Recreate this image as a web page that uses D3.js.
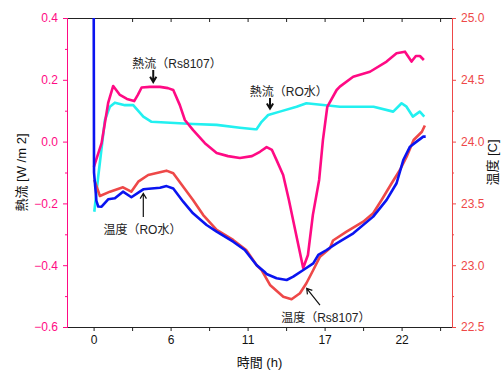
<!DOCTYPE html>
<html>
<head>
<meta charset="utf-8">
<script src="https://d3js.org/d3.v7.min.js"></script>
<style>
  body { margin: 0; background: #fff; }
  svg { font-family: "Liberation Sans", Arial, "Noto Sans CJK JP", sans-serif; }
</style>
</head>
<body>
<div id="chart"></div>
<script>
// heat flux, Rs8107 (left axis, W/m2)
const fluxRsHours = [0.02, 0.57, 1.04, 1.4, 1.88, 2.38, 2.9, 3.16, 3.43, 4.02, 4.74, 5.31, 5.69, 6.16, 6.52, 7.11, 7.95, 8.79, 9.6, 10.45, 11.31, 11.88, 12.36, 12.74, 13.07, 13.54, 13.95, 14.5, 14.97, 15.31, 15.66, 16.11, 16.38, 16.69, 17.36, 17.59, 18.54, 19.74, 20.93, 21.64, 22.24, 22.71, 23.02, 23.31, 23.59];
const fluxRsValues = [-0.082, -0.005, 0.125, 0.18, 0.151, 0.138, 0.131, 0.151, 0.175, 0.177, 0.177, 0.173, 0.167, 0.118, 0.07, 0.037, -0.005, -0.037, -0.047, -0.053, -0.047, -0.033, -0.018, -0.027, -0.06, -0.108, -0.189, -0.308, -0.409, -0.367, -0.238, -0.124, 0.005, 0.112, 0.167, 0.178, 0.21, 0.226, 0.259, 0.286, 0.291, 0.259, 0.277, 0.277, 0.264];

// heat flux, RO water (left axis)
const fluxRoHours = [0.05, 0.33, 0.81, 1.16, 1.52, 2.24, 2.83, 3.55, 4.14, 7.11, 8.79, 10.45, 11.52, 11.64, 12.0, 12.47, 13.3, 14.5, 15.2, 17.6, 20.0, 21.4, 22.0, 22.35, 22.8, 23.3, 23.62];
const fluxRoValues = [-0.227, -0.113, 0.07, 0.113, 0.126, 0.118, 0.118, 0.081, 0.064, 0.057, 0.054, 0.045, 0.04, 0.04, 0.064, 0.086, 0.097, 0.113, 0.124, 0.113, 0.113, 0.097, 0.124, 0.113, 0.081, 0.097, 0.081];

// temperature, Rs8107 (right axis, C)
const tempRsHours = [0.05, 0.45, 1.17, 2.1, 2.69, 3.19, 3.9, 5.2, 5.69, 6.4, 7.1, 7.83, 8.79, 9.97, 10.9, 11.65, 12.0, 12.6, 13.55, 14.14, 14.74, 15.2, 15.69, 16.17, 16.88, 17.1, 18.07, 19.26, 19.97, 20.57, 21.29, 21.88, 22.36, 22.86, 23.45, 23.66];
const tempRsValues = [23.69, 23.56, 23.595, 23.63, 23.595, 23.676, 23.73, 23.765, 23.744, 23.635, 23.528, 23.406, 23.285, 23.204, 23.123, 23.0, 22.961, 22.84, 22.745, 22.724, 22.773, 22.854, 22.961, 23.069, 23.137, 23.2, 23.271, 23.352, 23.42, 23.528, 23.663, 23.77, 23.878, 24.013, 24.08, 24.13];

// temperature, RO water (right axis)
const tempRoHours = [0.0, 0.03, 0.2, 0.33, 0.57, 1.04, 1.52, 2.1, 2.7, 3.3, 3.55, 4.74, 5.21, 5.69, 6.4, 7.1, 8.07, 8.79, 9.97, 10.8, 11.65, 12.2, 12.35, 13.07, 13.79, 14.26, 14.98, 15.69, 16.05, 16.64, 17.36, 18.55, 19.97, 20.93, 21.64, 22.12, 22.6, 23.07, 23.55, 23.72];
const tempRoValues = [25.6, 23.75, 23.52, 23.475, 23.473, 23.533, 23.541, 23.595, 23.55, 23.595, 23.614, 23.627, 23.64, 23.62, 23.514, 23.42, 23.325, 23.271, 23.19, 23.123, 23.0, 22.947, 22.929, 22.894, 22.88, 22.907, 22.961, 23.015, 23.083, 23.123, 23.177, 23.258, 23.393, 23.528, 23.663, 23.851, 23.959, 24.0, 24.04, 24.04];

// axis ticks
const xTicks = [0, 5.5, 11, 16.5, 22];
const xTickLabels = ["0", "6", "11", "17", "22"];
const xMinorTicks = [2.75, 8.25, 13.75, 19.25, 24.75];
const leftTicks = [-0.6, -0.4, -0.2, 0.0, 0.2, 0.4];
const leftMinorTicks = [-0.5, -0.3, -0.1, 0.1, 0.3];
const rightTicks = [22.5, 23.0, 23.5, 24.0, 24.5, 25.0];
const rightMinorTicks = [22.75, 23.25, 23.75, 24.25, 24.75];

// annotation labels: text centre and arrow (start -> head), in hours / left-axis units
const noteTexts = ["熱流（Rs8107）", "熱流（RO水）", "温度（RO水）", "温度（Rs8107）"];
const noteTextPos = [[5.96, 0.251], [13.94, 0.161], [3.49, -0.286], [16.59, -0.571]];
const noteArrows = [[[4.26, 0.232], [4.26, 0.193]], [[12.6, 0.141], [12.6, 0.107]],
                    [[3.55, -0.244], [3.55, -0.168]], [[16.17, -0.529], [15.22, -0.475]]];
const noteArrowWidth = [2, 2, 1.2, 1.2];

const W = 504, H = 372;
const plot = { left: 67, right: 452, top: 18, bottom: 327 };

const pink = "#ff0a84", cyan = "#22f0f0", red = "#ee4848", blue = "#0a14f0";

const svg = d3.select("#chart").append("svg")
  .attr("width", W).attr("height", H);

const x = d3.scaleLinear().domain([-1.9, 25.6]).range([plot.left, plot.right]);
const yL = d3.scaleLinear().domain([-0.6, 0.4]).range([plot.bottom, plot.top]);
const yR = d3.scaleLinear().domain([22.5, 25.0]).range([plot.bottom, plot.top]);

svg.append("clipPath").attr("id", "clip")
  .append("rect")
  .attr("x", plot.left).attr("y", plot.top)
  .attr("width", plot.right - plot.left).attr("height", plot.bottom - plot.top);

const fmt = d => d3.format(".1f")(d).replace("-", "−");

// bottom axis
const gx = svg.append("g").attr("transform", `translate(0,${plot.bottom})`)
  .call(d3.axisBottom(x).tickValues(xTicks).tickFormat((d, i) => xTickLabels[i]).tickSizeInner(4).tickSizeOuter(0).tickPadding(4));
svg.append("g").attr("transform", `translate(0,${plot.bottom})`)
  .call(d3.axisBottom(x).tickValues(xMinorTicks).tickFormat("").tickSizeInner(4).tickSizeOuter(0));
// top frame
svg.append("g").attr("transform", `translate(0,${plot.top})`)
  .call(d3.axisTop(x).tickValues(xTicks.concat(xMinorTicks)).tickFormat("").tickSizeInner(-4).tickSizeOuter(0));

// left axis
svg.append("g").attr("class", "left").attr("transform", `translate(${plot.left},0)`)
  .call(d3.axisLeft(yL).tickValues(leftTicks).tickFormat(fmt).tickSizeInner(4).tickSizeOuter(0).tickPadding(5));
svg.append("g").attr("class", "left").attr("transform", `translate(${plot.left},0)`)
  .call(d3.axisLeft(yL).tickValues(leftMinorTicks).tickFormat("").tickSizeInner(2).tickSizeOuter(0));

// right axis
svg.append("g").attr("class", "right").attr("transform", `translate(${plot.right},0)`)
  .call(d3.axisRight(yR).tickValues(rightTicks).tickFormat(fmt).tickSizeInner(4).tickSizeOuter(0).tickPadding(5));
svg.append("g").attr("class", "right").attr("transform", `translate(${plot.right},0)`)
  .call(d3.axisRight(yR).tickValues(rightMinorTicks).tickFormat("").tickSizeInner(2).tickSizeOuter(0));

svg.selectAll("g text").attr("font-size", 12).attr("fill", "#111");
svg.selectAll("g path.domain, g .tick line").attr("stroke", "#222");
svg.selectAll("g.left path.domain, g.left .tick line").attr("stroke", pink);
svg.selectAll("g.left text").attr("fill", pink);
svg.selectAll("g.right path.domain, g.right .tick line").attr("stroke", red);
svg.selectAll("g.right text").attr("fill", red);

// axis titles
svg.append("text")
  .attr("x", (plot.left + plot.right) / 2).attr("y", 367)
  .attr("text-anchor", "middle").attr("font-size", 13).attr("fill", "#111")
  .text("時間 (h)");
svg.append("text")
  .attr("transform", `translate(26,${(plot.top + plot.bottom) / 2}) rotate(-90)`)
  .attr("text-anchor", "middle").attr("font-size", 13).attr("fill", "#111")
  .text("熱流 [W /m 2]");
svg.append("text")
  .attr("transform", `translate(497,${(plot.top + plot.bottom) / 2 - 10}) rotate(-90)`)
  .attr("text-anchor", "middle").attr("font-size", 13).attr("fill", "#111")
  .text("温度 [C]");

// series
const lines = svg.append("g").attr("clip-path", "url(#clip)");
function drawSeries(hours, values, y, color, width) {
  const pts = hours.map((h, i) => [h, values[i]]);
  lines.append("path")
    .datum(pts)
    .attr("fill", "none")
    .attr("stroke", color)
    .attr("stroke-width", width)
    .attr("stroke-linejoin", "round")
    .attr("d", d3.line().x(d => x(d[0])).y(d => y(d[1])));
}
drawSeries(fluxRoHours, fluxRoValues, yL, cyan, 2.6);
drawSeries(fluxRsHours, fluxRsValues, yL, pink, 2.6);
drawSeries(tempRsHours, tempRsValues, yR, red, 2.6);
drawSeries(tempRoHours, tempRoValues, yR, blue, 2.6);

// annotations
const notes = svg.append("g");
noteTexts.forEach((t, i) => {
  notes.append("text")
    .attr("x", x(noteTextPos[i][0])).attr("y", yL(noteTextPos[i][1]))
    .attr("dy", "0.35em")
    .attr("text-anchor", "middle").attr("font-size", 12).attr("fill", "#222")
    .text(t);
  const [a, b] = noteArrows[i];
  const x0 = x(a[0]), y0 = yL(a[1]), x1 = x(b[0]), y1 = yL(b[1]);
  const ang = Math.atan2(y1 - y0, x1 - x0);
  const hl = 6, spread = 0.55;
  notes.append("path")
    .attr("fill", "none").attr("stroke", "#111")
    .attr("stroke-width", noteArrowWidth[i])
    .attr("d", `M${x0},${y0}L${x1},${y1}` +
      `M${x1 - hl * Math.cos(ang - spread)},${y1 - hl * Math.sin(ang - spread)}L${x1},${y1}` +
      `L${x1 - hl * Math.cos(ang + spread)},${y1 - hl * Math.sin(ang + spread)}`);
});
</script>
</body>
</html>
